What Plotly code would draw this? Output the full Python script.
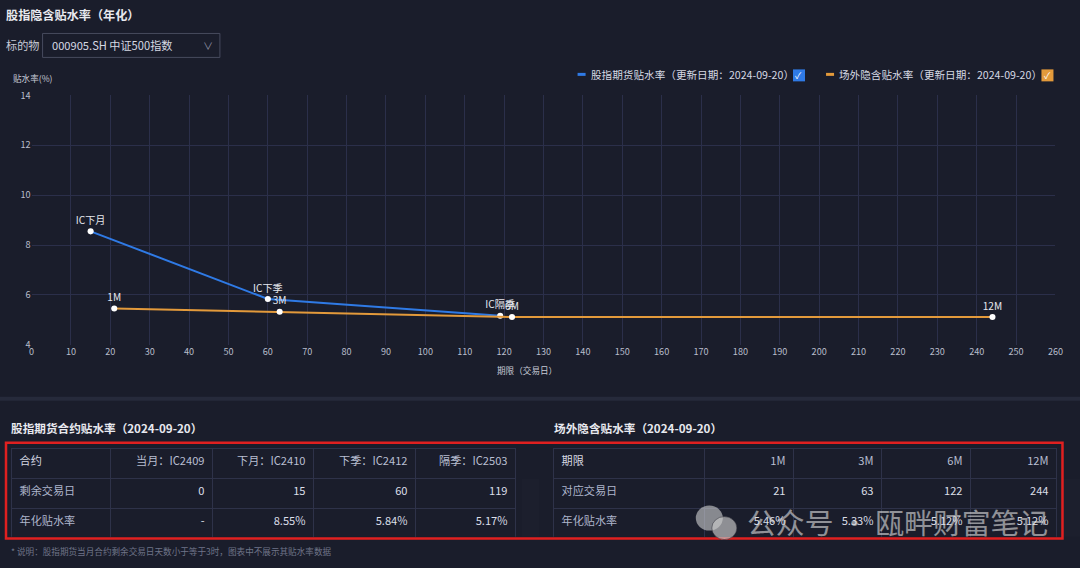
import plotly.graph_objects as go

W, H = 1080, 568

# ---------------- data ----------------
fut_name = "股指期货贴水率（更新日期：2024-09-20）"
fut_labels = ["IC下月", "IC下季", "IC隔季"]
fut_days = [15, 60, 119]
fut_rates = [8.55, 5.84, 5.17]

otc_name = "场外隐含贴水率（更新日期：2024-09-20）"
otc_labels = ["1M", "3M", "6M", "12M"]
otc_days = [21, 63, 122, 244]
otc_rates = [5.46, 5.33, 5.12, 5.12]

t1_title = "股指期货合约贴水率（2024-09-20）"
t1_header = ["合约", "当月：IC2409", "下月：IC2410", "下季：IC2412", "隔季：IC2503"]
t1_row_days = ["剩余交易日", "0", "15", "60", "119"]
t1_row_rate = ["年化贴水率", "-", "8.55%", "5.84%", "5.17%"]

t2_title = "场外隐含贴水率（2024-09-20）"
t2_header = ["期限", "1M", "3M", "6M", "12M"]
t2_row_days = ["对应交易日", "21", "63", "122", "244"]
t2_row_rate = ["年化贴水率", "5.46%", "5.33%", "5.12%", "5.12%"]

x_ticks = list(range(0, 261, 10))
y_ticks = list(range(4, 15, 2))

# ---------------- style ----------------
BG = "#1a1d2b"
GRID = "#2b2f4a"
FONT = "Noto Sans CJK SC"
BLUE = "#2f7ae5"
ORANGE = "#e39a3b"
TXT = "#dfe2ea"
TICK = "#b9bdcb"

# layout helper: page pixel -> paper coordinate (compensates renderer inset)
INSET_X = 3.5
INSET_Y = 6.5
SX = (W - 13)
SY = (H - 13)
F = W / SX  # size compensation


def px(x):
    return (x - INSET_X) / SX


def py(y):
    return 1 - (y - INSET_Y) / SY


def fs(s):
    return s * F


fig = go.Figure()

fig.add_trace(go.Scatter(
    x=fut_days, y=fut_rates, text=fut_labels, name=fut_name,
    mode="lines+markers+text", textposition="top center",
    textfont=dict(family=FONT, size=fs(10), color="#e6e8ee"),
    line=dict(color=BLUE, width=2),
    marker=dict(color="white", size=fs(6)),
    cliponaxis=False,
))
fig.add_trace(go.Scatter(
    x=otc_days, y=otc_rates, text=otc_labels, name=otc_name,
    mode="lines+markers+text", textposition="top center",
    textfont=dict(family=FONT, size=fs(10), color="#e6e8ee"),
    line=dict(color=ORANGE, width=2),
    marker=dict(color="white", size=fs(6)),
    cliponaxis=False,
))


def add_table(vals_rows, x0, x1, y0, y1, widths):
    cols = list(zip(*vals_rows))
    ncol = len(cols)
    colors = ["#aeb5cc"] + ["#dcdfe8"] * (ncol - 1)
    hcolors = ["#d5d8e2"] + ["#b9bfd2"] * (ncol - 1)
    aligns = ["left"] + ["right"] * (ncol - 1)
    rh = (y1 - y0) / 3 * F
    fig.add_trace(go.Table(
        domain=dict(x=[px(x0), px(x1)], y=[py(y1), py(y0)]),
        columnwidth=widths,
        header=dict(values=list(vals_rows[0]), align=aligns, height=rh,
                    fill_color=BG, line_color="#2e3249",
                    font=dict(family=FONT, size=fs(11), color=hcolors)),
        cells=dict(values=[list(c[1:]) for c in cols], align=aligns, height=rh,
                   fill_color=BG, line_color="#2e3249",
                   font=dict(family=FONT, size=fs(11), color=colors)),
    ))


add_table([t1_header, t1_row_days, t1_row_rate], 12, 516, 448, 537, [99, 102, 101, 102, 100])
add_table([t2_header, t2_row_days, t2_row_rate], 553, 1056, 448, 537, [151, 89, 88, 89, 86])

shapes = []
ann = []

# separator band
shapes.append(dict(type="rect", xref="paper", yref="paper", x0=-0.02, x1=1.02,
                   y0=py(400), y1=py(396), fillcolor="#262a3b", line_width=0, layer="below"))

# dropdown box
shapes.append(dict(type="rect", xref="paper", yref="paper", x0=px(43), x1=px(220),
                   y0=py(56), y1=py(32), line=dict(color="#474b5e", width=1), fillcolor=BG))

# legend marks
shapes.append(dict(type="line", xref="paper", yref="paper", x0=px(577), x1=px(585),
                   y0=py(73), y1=py(73), line=dict(color=BLUE, width=3)))
shapes.append(dict(type="rect", xref="paper", yref="paper", x0=px(792), x1=px(804),
                   y0=py(80), y1=py(68), fillcolor=BLUE, line_width=0))
shapes.append(dict(type="line", xref="paper", yref="paper", x0=px(825), x1=px(833),
                   y0=py(73), y1=py(73), line=dict(color=ORANGE, width=3)))
shapes.append(dict(type="rect", xref="paper", yref="paper", x0=px(1040), x1=px(1052),
                   y0=py(80), y1=py(68), fillcolor=ORANGE, line_width=0))

# red highlight box
shapes.append(dict(type="rect", xref="paper", yref="paper", x0=px(6.5), x1=px(1061),
                   y0=py(538), y1=py(442), line=dict(color="#e02020", width=2.5)))

# watermark icon
shapes.append(dict(type="circle", xref="paper", yref="paper", x0=px(695), x1=px(722),
                   y0=py(530), y1=py(505), fillcolor="rgba(225,225,225,0.55)", line_width=0))
shapes.append(dict(type="circle", xref="paper", yref="paper", x0=px(711), x1=px(736),
                   y0=py(539), y1=py(516), fillcolor="rgba(205,205,205,0.65)",
                   line=dict(color="rgba(40,40,50,0.5)", width=1)))


def text(x, y, s, size=11, color=TXT, anchor="left", bold=False):
    if bold:
        s = "<b>" + s + "</b>"
    ann.append(dict(x=px(x), y=py(y), xref="paper", yref="paper", text=s, showarrow=False,
                    xanchor=anchor, yanchor="middle",
                    font=dict(family=FONT, size=fs(size), color=color)))


text(4, 13, "股指隐含贴水率（年化）", 12, "#e8e9ef", bold=True)
text(4, 44, "标的物", 11, "#c7cad6")
text(50, 44, "000905.SH 中证500指数", 11, "#d6d9e3")
text(208, 44, "∨", 10, "#8a8ea0", anchor="center")
text(588, 73, fut_name, 10.5, "#d6d9e3")
text(798, 74, "✓", 9, "white", anchor="center")
text(836, 73, otc_name, 10.5, "#d6d9e3")
text(1046, 74, "✓", 9, "white", anchor="center")
text(11, 77, "贴水率(%)", 8.5, "#c7cad6")
text(527, 369, "期限（交易日）", 8.5, "#c7cad6", anchor="center")
text(9, 427, t1_title, 11.5, "#e8e9ef", bold=True)
text(551, 427, t2_title, 11.5, "#e8e9ef", bold=True)
text(9, 550, "* 说明：股指期货当月合约剩余交易日天数小于等于3时，图表中不展示其贴水率数据", 8.5, "#6f7488")
text(744, 521, "公众号 · 瓯畔财富笔记", 28.5, "rgba(225,225,225,0.6)")

fig.update_layout(
    width=W, height=H, margin=dict(l=0, r=0, t=0, b=0),
    paper_bgcolor=BG, plot_bgcolor=BG, showlegend=False,
    shapes=shapes, annotations=ann,
    xaxis=dict(domain=[px(32), px(1054)], range=[0, 260], tickvals=x_ticks,
               showgrid=True, gridcolor=GRID, gridwidth=1, zeroline=False, showline=False,
               tickfont=dict(family=FONT, size=fs(9), color=TICK), ticks="", ticklen=0),
    yaxis=dict(domain=[py(344), py(94)], range=[4, 14], tickvals=y_ticks,
               showgrid=True, gridcolor=GRID, gridwidth=1, zeroline=False, showline=False,
               tickfont=dict(family=FONT, size=fs(9), color=TICK), ticks="", ticklen=0),
    font=dict(family=FONT),
)

post = (
    "var d=document.getElementById('{plot_id}');"
    "document.documentElement.style.margin='0';document.documentElement.style.padding='0';"
    "document.documentElement.style.overflow='hidden';"
    "document.documentElement.style.background='" + BG + "';"
    "document.body.style.margin='0';document.body.style.padding='0';"
    "document.body.style.overflow='hidden';document.body.style.background='" + BG + "';"
    "d.style.position='fixed';d.style.left='0px';d.style.top='0px';"
)

fig.write_html("out.html", config={"displayModeBar": False}, post_script=post)
